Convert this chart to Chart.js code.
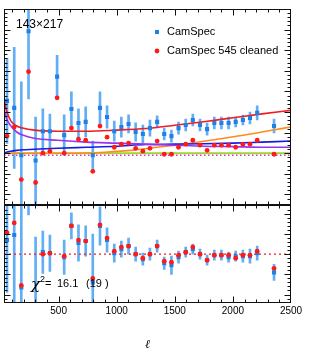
<!DOCTYPE html>
<html><head><meta charset="utf-8">
<script src="https://cdn.jsdelivr.net/npm/chart.js@4.4.0/dist/chart.umd.min.js"></script>
<style>html,body{margin:0;padding:0;background:#fff;}#c{display:block;}</style>
</head><body>
<canvas id="c" width="309" height="355"></canvas>
<script>
// ---- data ----
const ell = [56,118,179,241,302,364,425,487,548,610,671,733,794,856,917,979,1040,1102,1163,1225,1286,1348,1409,1471,1532,1594,1655,1717,1778,1840,1901,1963,2024,2086,2147,2209,2354];
const camspec = [25.4,22.0,-1.0,59.2,-3.5,10.7,10.7,37.2,8.8,21.5,14.7,15.2,-1.0,22.0,17.6,10.7,12.7,14.2,10.3,9.3,12.2,15.2,9.3,8.3,12.2,13.7,16.1,13.7,11.7,14.7,14.7,14.7,15.2,16.1,17.1,19.6,13.2];
const camspecErr = [20.6,29.4,35.7,32.8,21.1,10.8,8.3,10.3,9.8,8.3,6.9,7.3,6.9,7.8,5.4,4.9,4.9,4.4,4.4,4.4,3.9,2.9,2.9,2.9,2.9,2.9,2.9,2.9,2.9,2.9,2.9,2.9,2.4,2.4,2.9,3.4,3.4];
const cleaned = [8.3,12.7,-12.8,39.6,-14.2,0.0,1.0,26.9,0.0,12.2,6.8,6.3,-8.8,13.2,7.8,2.9,4.4,4.9,2.4,1.0,2.4,5.9,-0.5,-0.5,2.9,4.4,6.3,3.9,1.4,3.9,3.9,3.9,2.9,4.4,4.4,6.3,-0.5];
const resCamspec = [14,19,-33,100,-62,2,1,90,-3,28,11,13,-28,28,14,1,5,8,0,-5,0,8,-9,-11,-3,2,5,0,-6,-1,-1,-3,-2,-2,-2,1,-18];
const resCamspecErr = [52,70,110,61,79,21,18,30,17,13,18,15,48,19,12,9,8,8,7,6,6,6,6,9,6,5,5,5,5,5,5,5,5,6,7,7,8];
const resCleaned = [21,31,-31,75,-70,0,1,72,-2,28,14,13,-24,29,16,3,7,8,0,-4,0,8,-7,-8,-1,2,7,0,-6,-1,-1,-1,-4,-1,-1,3,-14];

const curveEll = [30,50,90,140,190,290,490,740,990,1250,1500,1750,2000,2250,2500];
const curveRed = [26.4,21.0,15.6,13.2,12.2,11.2,10.7,10.7,11.2,12.0,13.6,15.3,17.2,19.1,20.8];
const curvePurple = [21.5,17.1,13.2,10.3,8.8,7.3,6.3,5.4,4.9,4.4,3.9,3.4,3.2,2.9,2.9];
const curveBlue = [0,0.5,1.0,1.4,1.7,1.9,2.4,2.9,3.4,4.2,4.4,4.6,4.9,5.4,5.9];
const orangeEll = [30,600,900,1150,1300,1575,1865,2150,2500];
const curveOrange = [0,0,0.5,1.5,2.6,4.4,6.8,9.3,12.8];
const lineEll = [30,2500];
const greenLevel = [0,0];
const magentaLevel = [-1,-1];
const residualZero = [0,0];

const xTicks = [500,1000,1500,2000,2500];
const legendLabels = ['CamSpec','CamSpec 545 cleaned'];
const spectrumLabel = '143\u00d7217';
const chi2Value = '16.1';
const dofLabel = '(19 )';

// ---- build ----
const pts = (xs, ys) => xs.map((x,i)=>({x:x, y:ys[i]}));
const bars = (xs, ys, es) => xs.map((x,i)=>({x:x, y:[ys[i]-es[i], ys[i]+es[i]]}));
const FONT = '"Liberation Sans", Arial, sans-serif';

const curve = (data, color, extra) => Object.assign({type:'line', data, yAxisID:'yt', borderColor:color, borderWidth:1.6, pointRadius:0, cubicInterpolationMode:'monotone', fill:false}, extra||{});

const datasets = [
  {type:'scatter', label:legendLabels[1], data:pts(ell,cleaned), yAxisID:'yt', pointStyle:'circle', pointRadius:2.4, backgroundColor:'#ff1a1a', borderWidth:0, clip:3},
  {type:'scatter', label:legendLabels[0], data:pts(ell,camspec), yAxisID:'yt', pointStyle:'rect', pointRadius:2.9, backgroundColor:'#1f80e8', borderWidth:0, clip:3},
  {type:'scatter', data:pts(ell,resCleaned), yAxisID:'yb', pointStyle:'circle', pointRadius:2.4, backgroundColor:'#ff1a1a', borderWidth:0, clip:3},
  {type:'scatter', data:pts(ell,resCamspec), yAxisID:'yb', pointStyle:'rect', pointRadius:2.9, backgroundColor:'#1f80e8', borderWidth:0, clip:3},
  curve(pts(curveEll,curveRed), '#ee1c24'),
  curve(pts(curveEll,curvePurple), '#9933ee'),
  curve(pts(curveEll,curveBlue), '#1a1ae6'),
  curve(pts(orangeEll,curveOrange), '#ff8c1a'),
  curve(pts(lineEll,greenLevel), '#9ad62e', {borderWidth:2}),
  curve(pts(lineEll,magentaLevel), '#ee22ee', {borderWidth:1.4, borderDash:[1.5,2.5]}),
  curve(pts(lineEll,residualZero), '#ee1c24', {yAxisID:'yb', borderWidth:1.2, borderDash:[2,3]}),
  {type:'bar', data:bars(ell,camspec,camspecErr), yAxisID:'yt', backgroundColor:'#62aef5', barThickness:2, grouped:false, borderWidth:0, clip:0},
  {type:'bar', data:bars(ell,resCamspec,resCamspecErr), yAxisID:'yb', backgroundColor:'#62aef5', barThickness:2, grouped:false, borderWidth:0, clip:0}
];

const framePlugin = {
  id:'frame',
  afterDatasetsDraw(chart){
    const ctx = chart.ctx, x = chart.scales.x;
    const L = Math.round(x.left)+0.5, R = Math.round(x.right)-0.5;
    ctx.save();
    ctx.strokeStyle = '#111'; ctx.lineWidth = 1;
    const seg = (a,b,c,d)=>{ctx.beginPath();ctx.moveTo(a,b);ctx.lineTo(c,d);ctx.stroke();};
    const panels = [[chart.scales.yt,2,10],[chart.scales.yb,4,20]];
    for (const [ys,minor,major] of panels){
      const T = Math.round(ys.top)+0.5, B = Math.round(ys.bottom)-0.5;
      ctx.strokeRect(L,T,R-L,B-T);
      for (let v=100; v<2500; v+=100){
        const px = Math.round(x.getPixelForValue(v))+0.5;
        const len = v%500===0 ? 6 : 3;
        seg(px,T,px,T+len); seg(px,B,px,B-len);
      }
      const start = Math.ceil(ys.min/minor)*minor;
      for (let v=start; v<=ys.max; v+=minor){
        const py = Math.round(ys.getPixelForValue(v))+0.5;
        if (py<=T+1 || py>=B-1) continue;
        const len = Math.abs(v%major)<1e-6 ? 6 : 3;
        seg(L,py,L+len,py); seg(R,py,R-len,py);
      }
    }
    ctx.restore();
  },
  afterDraw(chart){
    const ctx = chart.ctx;
    ctx.save();
    ctx.textBaseline = 'middle'; ctx.textAlign = 'left'; ctx.fillStyle = '#000';
    ctx.font = '12px '+FONT;
    ctx.fillText(spectrumLabel, 16, 25);
    ctx.font = '11px '+FONT;
    ctx.fillStyle = '#1f80e8'; ctx.fillRect(155, 30, 4, 4);
    ctx.fillStyle = '#ff1a1a'; ctx.beginPath(); ctx.arc(157, 51, 2.4, 0, Math.PI*2); ctx.fill();
    ctx.fillStyle = '#000';
    ctx.fillText(legendLabels[0], 167, 32);
    ctx.fillText(legendLabels[1], 167, 51);
    ctx.textBaseline = 'alphabetic';
    ctx.font = 'italic 15px "DejaVu Serif", serif';
    ctx.fillText('\u03c7', 31, 289);
    ctx.font = '9px '+FONT;
    ctx.fillText('2', 40, 282);
    ctx.font = '11px '+FONT;
    ctx.fillText('=', 45, 287);
    ctx.fillText(chi2Value, 57, 287);
    ctx.fillText(dofLabel, 86, 287);
    ctx.restore();
  }
};

new Chart(document.getElementById('c'), {
  type:'scatter',
  data:{datasets},
  options:{
    responsive:false, animation:false, events:[],
    layout:{padding:{left:3, right:18, top:9, bottom:3}},
    plugins:{legend:{display:false}, tooltip:{enabled:false}},
    scales:{
      x:{type:'linear', position:'bottom', min:30, max:2500, offset:false,
         afterBuildTicks:(s)=>{ s.ticks = xTicks.map(v=>({value:v})); },
         ticks:{font:{family:FONT, size:10}, color:'#000', padding:3, maxRotation:0, autoSkip:false, callback:(v)=>String(v)},
         grid:{display:false, drawTicks:false}, border:{display:false},
         title:{display:true, text:'\u2113', color:'#000', font:{family:'"DejaVu Serif", serif', style:'italic', size:12}, padding:{top:17, bottom:0}}},
      yt:{type:'linear', position:'left', stack:'panels', stackWeight:2, weight:2, min:-25, max:70,
          ticks:{display:false}, grid:{display:false, drawTicks:false}, border:{display:false}},
      yb:{type:'linear', position:'left', stack:'panels', stackWeight:1, weight:1, min:-48, max:49,
          ticks:{display:false}, grid:{display:false, drawTicks:false}, border:{display:false}}
    }
  },
  plugins:[framePlugin]
});
</script>
</body></html>
